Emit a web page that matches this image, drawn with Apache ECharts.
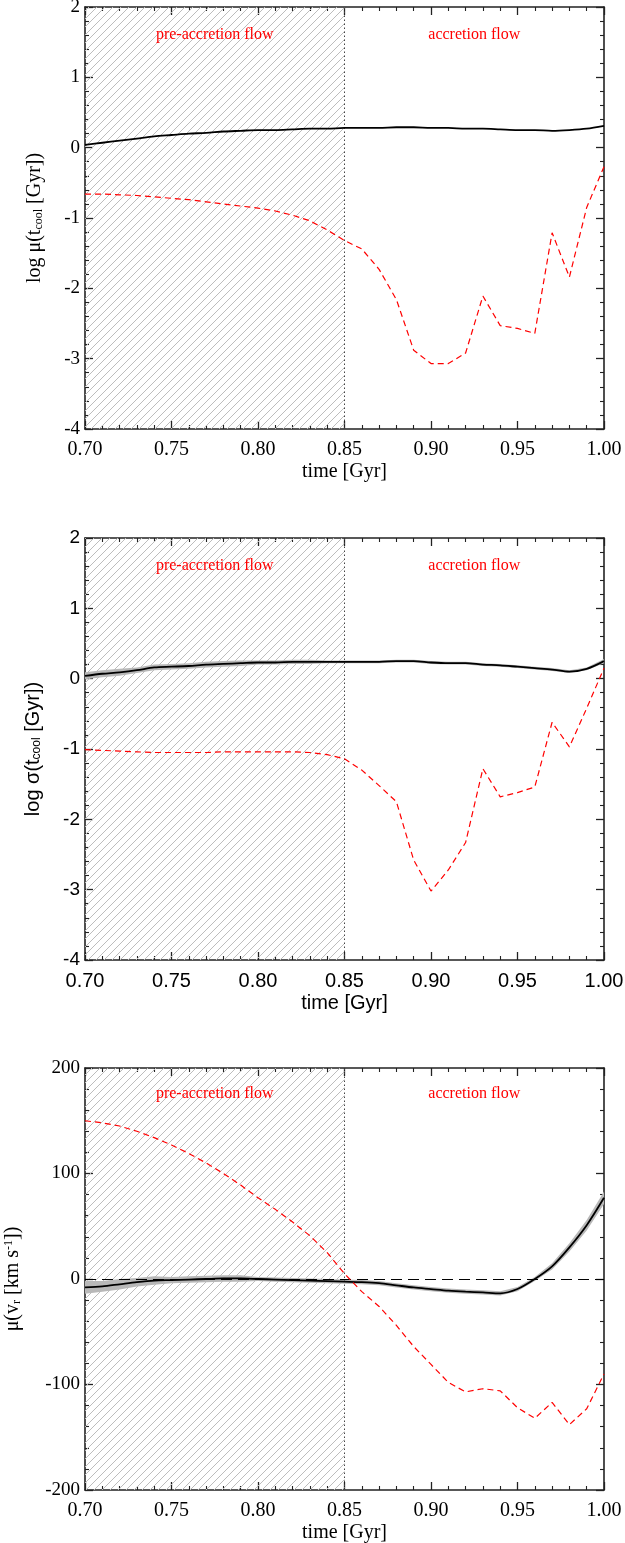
<!DOCTYPE html>
<html><head><meta charset="utf-8">
<script src="https://cdn.jsdelivr.net/npm/echarts@6.0.0/dist/echarts.min.js"></script>
<style>html,body{margin:0;padding:0;background:#fff}#c{width:625px;height:1543px}</style>
</head><body><div id="c"></div><script>
// ---------- data ----------
const times = [0.70,0.71,0.72,0.73,0.74,0.75,0.76,0.77,0.78,0.79,0.80,0.81,0.82,0.83,0.84,0.85,0.86,0.87,0.88,0.89,0.90,0.91,0.92,0.93,0.94,0.95,0.96,0.97,0.98,0.99,1.00];
const preStart = 0.70, accretionStart = 0.85;
const xTickStep = 0.05;

// panel 1: log mu(t_cool)
const muTcoolBlack = [0.04,0.07,0.10,0.13,0.16,0.18,0.20,0.21,0.23,0.24,0.25,0.25,0.26,0.27,0.27,0.28,0.28,0.28,0.29,0.29,0.28,0.28,0.27,0.27,0.26,0.25,0.25,0.24,0.25,0.27,0.31];
const muTcoolRed   = [-0.66,-0.66,-0.67,-0.68,-0.70,-0.72,-0.74,-0.77,-0.80,-0.83,-0.86,-0.90,-0.96,-1.04,-1.17,-1.32,-1.44,-1.73,-2.16,-2.88,-3.07,-3.07,-2.92,-2.11,-2.53,-2.57,-2.64,-1.21,-1.84,-0.85,-0.27];

// panel 2: log sigma(t_cool)
const sigTcoolBlack = [0.04,0.07,0.09,0.12,0.16,0.17,0.18,0.20,0.21,0.22,0.23,0.23,0.24,0.24,0.24,0.24,0.24,0.24,0.25,0.25,0.23,0.22,0.22,0.20,0.19,0.17,0.15,0.13,0.10,0.14,0.25];
const sigTcoolBand  = [0.05,0.05,0.05,0.04,0.04,0.04,0.04,0.04,0.04,0.04,0.03,0.03,0.03,0.03,0.02,0.02,0.02,0.02,0.02,0.02,0.02,0.02,0.02,0.02,0.02,0.02,0.02,0.02,0.02,0.02,0.03];
const sigTcoolRed   = [-1.01,-1.02,-1.03,-1.04,-1.05,-1.05,-1.05,-1.05,-1.04,-1.04,-1.04,-1.04,-1.04,-1.05,-1.08,-1.14,-1.30,-1.52,-1.75,-2.58,-3.02,-2.72,-2.33,-1.28,-1.68,-1.62,-1.54,-0.62,-0.97,-0.42,0.15];

// panel 3: mu(v_r)
const vrBlack = [-8,-7,-5,-3,-1.5,-1,-0.5,0,0.5,0.5,0,-0.5,-1,-1.5,-2,-2.5,-3,-4,-6,-8,-9.5,-11,-12,-12.7,-13.6,-9.5,0,12,30,51,77];
const vrBand  = [6,5,5,4,4,3,3,3,3,3,2,2,2,2,2,2,2,2,2,2,2,2,2,2,2,2,2,3,4,5,6];
const vrRed   = [150,148,145,140,134,127,119,110,100,89,77,66,54,41,25,5,-12,-26,-44,-64,-81,-98,-107,-104,-106,-122,-132,-117,-138,-123,-90];

const regionLabels = ['pre-accretion flow', 'accretion flow'];
const regionLabelX = [0.775, 0.925];

// ---------- layout ----------
const SERIF = '"Liberation Serif","DejaVu Serif",serif';
const SANS = '"Liberation Sans","DejaVu Sans",sans-serif';
const panels = [
  {top: 7, ymin: -4, ymax: 2, yint: 1, font: SERIF, yname: 'log μ(t{sub|cool} [Gyr])', nameGap: 40, black: muTcoolBlack, band: null, red: muTcoolRed, labelY: 1.6, zero: false},
  {top: 538, ymin: -4, ymax: 2, yint: 1, font: SANS, yname: 'log σ(t{sub|cool} [Gyr])', nameGap: 42, black: sigTcoolBlack, band: sigTcoolBand, red: sigTcoolRed, labelY: 1.6, zero: false},
  {top: 1068, ymin: -200, ymax: 200, yint: 100, font: SERIF, yname: 'μ(v{sub|r} [km s{sup|-1}])', nameGap: 62, black: vrBlack, band: vrBand, red: vrRed, labelY: 176, zero: true}
];

function hatchCanvas(){
  const s = 8, c = document.createElement('canvas');
  c.width = s; c.height = s;
  const g = c.getContext('2d');
  g.strokeStyle = '#bdbdbd'; g.lineWidth = 1;
  g.beginPath();
  g.moveTo(-1, s+1); g.lineTo(s+1, -1);
  g.moveTo(-1, 1); g.lineTo(1, -1);
  g.moveTo(s-1, s+1); g.lineTo(s+1, s-1);
  g.stroke();
  return c;
}
const hatch = hatchCanvas();

function tickCfg(){ return {show: true, inside: true, length: 8, lineStyle: {color: '#222', width: 1.3}}; }
function minorCfg(){ return {show: true, splitNumber: 5, length: 4, lineStyle: {color: '#222', width: 1.1}}; }

const grid = [], xAxis = [], yAxis = [], series = [];
panels.forEach((p, i) => {
  grid.push({left: 85, width: 519, top: p.top, height: 422, containLabel: false, outerBoundsMode: 'none'});
  ['bottom', 'top'].forEach(pos => {
    const ax = {
      type: 'value', gridIndex: i, position: pos, min: preStart, max: 1.0, interval: xTickStep,
      axisLine: {show: true, onZero: false, lineStyle: {color: '#222', width: 1.6}},
      axisTick: tickCfg(), minorTick: minorCfg(), splitLine: {show: false}, minorSplitLine: {show: false},
      axisLabel: {show: false}
    };
    if (pos === 'bottom') {
      ax.axisLabel = {show: true, fontFamily: p.font, fontSize: 20, color: '#000', margin: 11, formatter: v => v.toFixed(2), showMinLabel: true, showMaxLabel: true};
      ax.name = 'time [Gyr]'; ax.nameLocation = 'middle'; ax.nameGap = 33;
      ax.nameTextStyle = {fontFamily: p.font, fontSize: 20, color: '#000'};
    }
    xAxis.push(ax);
  });
  ['left', 'right'].forEach(pos => {
    const ax = {
      type: 'value', gridIndex: i, position: pos, min: p.ymin, max: p.ymax, interval: p.yint,
      axisLine: {show: true, onZero: false, lineStyle: {color: '#222', width: 1.6}},
      axisTick: tickCfg(), minorTick: minorCfg(), splitLine: {show: false}, minorSplitLine: {show: false},
      axisLabel: {show: false}
    };
    if (pos === 'left') {
      ax.axisLabel = {show: true, fontFamily: p.font, fontSize: 19, color: '#000', margin: 5};
      ax.name = p.yname; ax.nameLocation = 'middle'; ax.nameRotate = 90; ax.nameGap = p.nameGap;
      ax.nameTextStyle = {fontFamily: p.font, fontSize: 20, color: '#000',
        rich: {sub: {fontFamily: p.font, fontSize: 12, color: '#000', verticalAlign: 'bottom', padding: [8,0,0,0]},
               sup: {fontFamily: p.font, fontSize: 12, color: '#000', verticalAlign: 'top', padding: [0,0,8,0]}}};
    }
    yAxis.push(ax);
  });
  const xi = i*2, yi = i*2;
  series.push({
    type: 'line', xAxisIndex: xi, yAxisIndex: yi, data: [], z: 1, silent: true,
    markArea: {silent: true, itemStyle: {color: {image: hatch, repeat: 'repeat'}},
      data: [[{xAxis: preStart}, {xAxis: accretionStart}]]},
    markLine: {silent: true, symbol: ['none','none'], label: {show: false},
      lineStyle: {type: [1.5, 2.5], color: '#444', width: 1},
      data: [{xAxis: accretionStart}]}
  });
  if (p.zero) {
    series.push({
      type: 'line', xAxisIndex: xi, yAxisIndex: yi, data: [], z: 2, silent: true,
      markLine: {silent: true, symbol: ['none','none'], label: {show: false},
        lineStyle: {type: [11, 6], color: '#000', width: 1.2}, data: [{yAxis: 0}]}
    });
  }
  if (p.band) {
    const black = p.black, band = p.band;
    series.push({type: 'custom', xAxisIndex: xi, yAxisIndex: yi, z: 3, silent: true,
      data: [[times[0], black[0]]],
      renderItem: (params, api) => {
        const up = times.map((t, k) => api.coord([t, black[k] + band[k]]));
        const lo = times.map((t, k) => api.coord([t, black[k] - band[k]])).reverse();
        return {type: 'polygon', shape: {points: up.concat(lo)}, style: {fill: '#b8b8b8', stroke: 'none'}};
      }});
  }
  series.push({type: 'line', xAxisIndex: xi, yAxisIndex: yi, symbol: 'none', z: 5, smooth: 0.3,
    lineStyle: {color: '#000', width: 1.8}, data: times.map((t, k) => [t, p.black[k]])});
  series.push({type: 'line', xAxisIndex: xi, yAxisIndex: yi, symbol: 'none', z: 6,
    lineStyle: {color: '#ff0000', width: 1.2, type: [6, 4]}, data: times.map((t, k) => [t, p.red[k]])});
});

const chart = echarts.init(document.getElementById('c'), null, {renderer: 'canvas'});
chart.setOption({animation: false, backgroundColor: '#fff', grid, xAxis, yAxis, series});

const graphic = [];
panels.forEach((p, i) => {
  regionLabels.forEach((txt, j) => {
    const pt = chart.convertToPixel({xAxisIndex: i*2, yAxisIndex: i*2}, [regionLabelX[j], p.labelY]);
    graphic.push({type: 'text', x: pt[0], y: pt[1], z: 100,
      style: {text: txt, fill: '#ff0000', font: '16px ' + SERIF, textAlign: 'center', textVerticalAlign: 'middle'}});
  });
});
chart.setOption({graphic});
</script></body></html>
